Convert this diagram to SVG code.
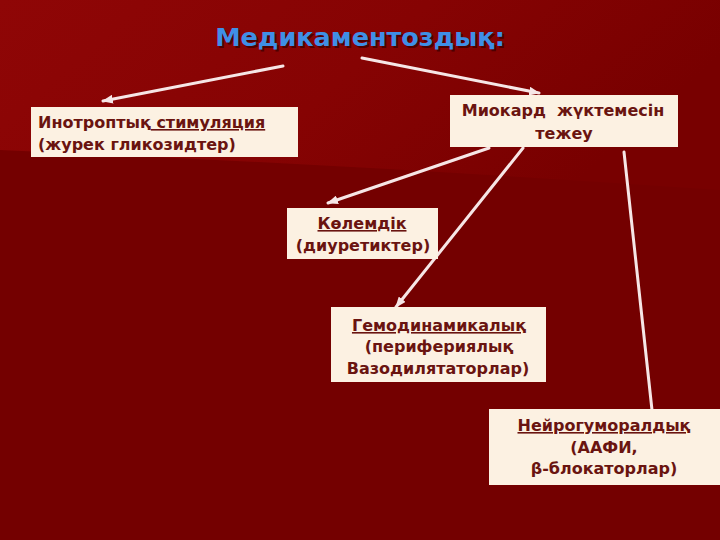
<svg xmlns="http://www.w3.org/2000/svg" width="720" height="540" viewBox="0 0 720 540">
  <defs>
    <linearGradient id="topband" x1="0" y1="0" x2="1" y2="0.3">
      <stop offset="0" stop-color="#8f0606"/>
      <stop offset="0.55" stop-color="#860303"/>
      <stop offset="1" stop-color="#780000"/>
    </linearGradient>
    <marker id="arrow" viewBox="0 0 10 8" refX="9" refY="4" markerWidth="11" markerHeight="9" markerUnits="userSpaceOnUse" orient="auto">
      <path d="M0,0 L10,4 L0,8 Z" fill="#f6e6e6"/>
    </marker>
  </defs>
  <style>
    .box { fill: #fcf1e2; }
    .lbl { font-family: "DejaVu Sans", "Noto Sans", sans-serif; font-weight: bold; font-size: 16px; fill: #6a1410; }
    .mid { text-anchor: middle; }
    .u { text-decoration: underline; }
    .title { font-family: "DejaVu Sans", "Noto Sans", sans-serif; font-weight: bold; font-size: 25.5px; text-anchor: middle; }
    .conn { stroke: #f6e6e6; stroke-width: 3; fill: none; stroke-linecap: round; }
  </style>

  <!-- background -->
  <rect x="0" y="0" width="720" height="540" fill="#740000"/>
  <path d="M0,0 H720 V190 Q360,165 0,150 Z" fill="url(#topband)"/>

  <!-- title -->
  <g id="title">
    <text class="title" x="361.5" y="47.5" fill="#2a0000" opacity="0.6">Медикаментоздық:</text>
    <text class="title" x="360" y="46" fill="#3f8fe6">Медикаментоздық:</text>
  </g>

  <!-- connectors -->
  <g id="connectors">
    <line class="conn" x1="283" y1="66" x2="103" y2="101" marker-end="url(#arrow)"/>
    <line class="conn" x1="362" y1="58" x2="539" y2="93" marker-end="url(#arrow)"/>
    <line class="conn" x1="489" y1="148" x2="328" y2="203" marker-end="url(#arrow)"/>
    <line class="conn" x1="523" y1="148" x2="396" y2="307" marker-end="url(#arrow)"/>
    <line class="conn" x1="624" y1="152" x2="652" y2="410"/>
  </g>

  <!-- nodes -->
  <g id="node-inotrop">
    <rect class="box" x="31" y="107" width="267" height="50"/>
    <text class="lbl" x="38" y="128">Инотроптық<tspan class="u"> стимуляция</tspan></text>
    <text class="lbl" x="38" y="150">(журек гликозидтер)</text>
  </g>

  <g id="node-miokard">
    <rect class="box" x="450" y="95" width="228" height="52"/>
    <text class="lbl mid" x="563" y="116" xml:space="preserve">Миокард  жүктемесін</text>
    <text class="lbl mid" x="564" y="139">тежеу</text>
  </g>

  <g id="node-kolem">
    <rect class="box" x="287" y="208" width="151" height="51"/>
    <text class="lbl mid u" x="362" y="229">Көлемдік</text>
    <text class="lbl mid" x="363" y="251">(диуретиктер)</text>
  </g>

  <g id="node-gemo">
    <rect class="box" x="331" y="307" width="215" height="75"/>
    <text class="lbl mid u" x="439" y="331">Гемодинамикалық</text>
    <text class="lbl mid" x="439" y="352">(перифериялық</text>
    <text class="lbl mid" x="438" y="374">Вазодилятаторлар)</text>
  </g>

  <g id="node-neiro">
    <rect class="box" x="489" y="409" width="231" height="76"/>
    <text class="lbl mid u" x="604" y="431">Нейрогуморалдық</text>
    <text class="lbl mid" x="604" y="453">(ААФИ,</text>
    <text class="lbl mid" x="604" y="474">β-блокаторлар)</text>
  </g>
</svg>
